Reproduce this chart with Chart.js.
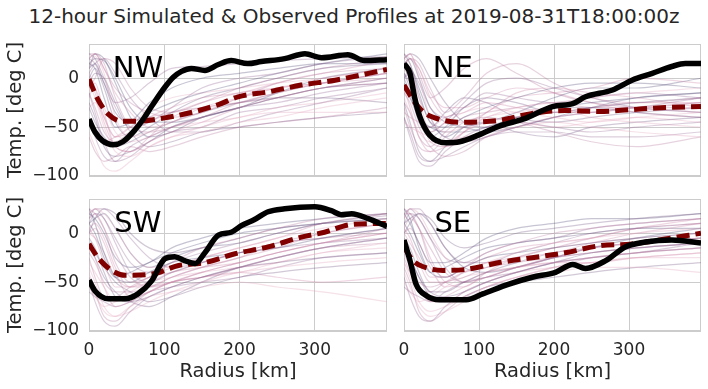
<!DOCTYPE html>
<html>
<head>
<meta charset="utf-8">
<script src="https://cdn.jsdelivr.net/npm/chart.js@4/dist/chart.umd.min.js"></script>
<style>
  body { margin: 0; background: #fff; }
  #page { position: relative; width: 708px; height: 389px; overflow: hidden; }
  #page canvas { position: absolute; left: 0; top: 0; }
  #titre { position: absolute; left: 0; top: 4px; width: 708px; text-align: center;
           font: 20px "DejaVu Sans"; line-height: 24px; color: #262626; }
</style>
</head>
<body>
<div id="page">
  <div id="titre">12-hour Simulated &amp; Observed Profiles at 2019-08-31T18:00:00z</div>
  <canvas id="nw" width="708" height="389"></canvas>
  <canvas id="ne" width="708" height="389"></canvas>
  <canvas id="sw" width="708" height="389"></canvas>
  <canvas id="se" width="708" height="389"></canvas>
</div>
<script>
// axes
const ticksX = [0, 100, 200, 300];
const ticksY = [-100, -50, 0];

// rayons communs des membres de l'ensemble (km)
const rayons = [0, 8, 20, 35, 55, 80, 110, 150, 200, 250, 310, 396];

// membres simulés (deg C), lus à l'oeil
const membresNW = [
  [10, 22, 5, -40, -60, -55, -45, -35, -20, -10, 0, 10],
  [-20, -5, -35, -70, -75, -65, -55, -45, -30, -20, -10, 0],
  [20, 25, 15, -20, -50, -55, -50, -40, -25, -15, -5, 5],
  [-40, -60, -80, -85, -70, -60, -50, -40, -30, -25, -15, -5],
  [0, 10, -10, -45, -60, -50, -35, -20, -10, 0, 10, 15],
  [15, 20, 18, 0, -30, -45, -45, -40, -30, -20, -10, 0],
  [-55, -70, -90, -95, -85, -70, -60, -55, -45, -40, -30, -20],
  [5, -10, -40, -60, -55, -40, -30, -20, -15, -5, 5, 18],
  [-10, 0, 20, 15, -10, -30, -35, -25, -10, 0, 10, 20],
  [25, 20, 0, -30, -50, -45, -30, -10, 0, 5, 15, 22],
  [-30, -45, -60, -70, -65, -55, -45, -35, -25, -20, -20, -25],
  [10, 15, -5, -35, -45, -35, -25, -15, -5, 5, 15, 25],
  [-5, -20, -50, -75, -80, -70, -60, -50, -40, -35, -35, -35],
  [20, 25, 10, -15, -35, -50, -45, -30, -20, -10, -5, 5],
  [-15, -30, -55, -65, -55, -45, -35, -30, -25, -15, -5, 5],
  [5, 15, 20, 5, -20, -40, -55, -55, -45, -35, -25, -10],
  [-25, -40, -70, -80, -75, -65, -50, -40, -30, -20, -10, -5],
  [15, 10, -20, -50, -45, -25, -10, 0, 5, 10, 15, 15],
  [0, -10, -30, -55, -65, -60, -50, -45, -40, -30, -25, -15],
  [-45, -55, -65, -60, -50, -40, -35, -25, -15, -10, -5, 0],
  [-60, -75, -85, -80, -70, -75, -70, -60, -50, -45, -40, -30],
  [20, 15, -5, -25, -20, -5, 10, 12, 15, 18, 20, 22],
  [-5, 5, 0, -25, -55, -70, -65, -55, -50, -45, -40, -35],
  [10, 25, 20, -5, -40, -60, -55, -40, -30, -15, 0, 10],
  [-30, -25, -40, -60, -50, -30, -20, -15, -10, -5, 0, 10],
  [0, -15, -45, -70, -75, -60, -40, -30, -25, -20, -10, -5],
  [25, 25, 10, -10, -25, -35, -40, -35, -20, -5, 5, 10],
  [-15, -35, -65, -85, -80, -65, -55, -50, -35, -30, -20, -10]
];
const membresNE = [
  [20, 25, 0, -40, -55, -50, -40, -30, -25, -20, -15, -10],
  [-10, -30, -60, -75, -70, -55, -45, -40, -35, -35, -30, -25],
  [15, 20, 15, -10, -35, -20, 5, 15, -5, -20, -25, -20],
  [-40, -60, -85, -90, -75, -60, -50, -45, -50, -55, -50, -45],
  [0, -15, -45, -60, -50, -30, -20, -25, -35, -30, -25, -20],
  [25, 15, -15, -45, -50, -40, -30, -20, -10, -5, -5, -10],
  [-20, -35, -55, -65, -65, -60, -55, -50, -45, -50, -55, -60],
  [10, 20, 10, -20, -40, -45, -35, -15, -10, -15, -20, -30],
  [-30, -50, -70, -75, -60, -45, -40, -45, -55, -65, -70, -60],
  [5, -5, -35, -55, -45, -25, -5, 0, -10, -20, -30, -35],
  [20, 25, 20, 0, -25, -45, -50, -40, -30, -30, -35, -40],
  [-5, -20, -40, -50, -55, -55, -50, -40, -30, -25, -20, -15],
  [-45, -50, -55, -60, -65, -55, -40, -35, -30, -40, -45, -50],
  [10, 0, -30, -65, -70, -55, -35, -20, -15, -10, 0, -5],
  [-15, -25, -50, -70, -80, -75, -60, -50, -40, -35, -30, -30],
  [15, 10, -5, -30, -40, -30, -15, -20, -25, -20, -15, -20],
  [-25, -45, -75, -85, -70, -50, -45, -55, -60, -50, -45, -40],
  [0, 10, -10, -40, -60, -50, -45, -35, -20, -10, -10, 0],
  [20, 15, -20, -55, -45, -35, -30, -35, -40, -45, -40, -35],
  [-35, -40, -45, -50, -40, -35, -25, -30, -35, -30, -25, -25],
  [20, 25, 5, -20, -10, 10, 20, 5, -15, -25, -30, -35],
  [-40, -55, -80, -85, -80, -70, -60, -55, -55, -60, -60, -55],
  [5, -10, -40, -50, -35, -20, -25, -40, -45, -40, -35, -30],
  [15, 20, 0, -30, -45, -50, -55, -50, -40, -30, -20, -15],
  [-10, -20, -35, -55, -70, -65, -55, -45, -50, -45, -40, -45],
  [25, 20, 10, -15, -30, -30, -20, -10, -15, -25, -35, -40],
  [-25, -35, -60, -70, -55, -40, -35, -30, -25, -30, -30, -25],
  [0, 5, -20, -45, -60, -65, -60, -50, -40, -35, -30, -20]
];
const membresSW = [
  [20, 25, 20, 5, -20, -35, -35, -25, -15, -5, 5, 15],
  [-10, -25, -55, -75, -70, -60, -50, -40, -30, -20, -10, 0],
  [15, 20, 5, -30, -50, -45, -30, -15, -5, 5, 15, 20],
  [-50, -70, -90, -95, -80, -65, -55, -45, -35, -25, -15, -5],
  [0, 15, 25, 20, 0, -15, -20, -15, -5, 5, 10, 15],
  [25, 10, -20, -45, -50, -40, -30, -25, -20, -15, -5, 5],
  [-35, -50, -75, -85, -75, -65, -60, -55, -50, -55, -60, -70],
  [5, -5, -30, -55, -55, -45, -35, -25, -15, -5, 10, 20],
  [-20, -30, -50, -60, -60, -55, -45, -35, -25, -10, 0, 10],
  [10, 20, 15, -10, -40, -50, -40, -30, -20, -15, -10, -5],
  [-5, -15, -40, -65, -70, -65, -55, -45, -35, -30, -25, -20],
  [20, 15, 0, -25, -35, -30, -15, -5, 5, 10, 15, 20],
  [-40, -60, -80, -85, -80, -70, -60, -50, -40, -35, -30, -25],
  [5, 10, -5, -35, -55, -55, -45, -35, -25, -15, 0, 10],
  [-25, -45, -65, -65, -55, -45, -40, -30, -20, -10, -5, 0],
  [15, 25, 25, 15, -5, -25, -35, -30, -20, -10, -5, 5],
  [-10, -20, -35, -50, -60, -70, -65, -55, -45, -40, -35, -30],
  [10, 0, -25, -45, -40, -30, -20, -10, 0, 5, 10, 15],
  [-55, -65, -75, -70, -60, -50, -45, -40, -35, -30, -20, -10],
  [0, 5, -10, -40, -65, -60, -50, -45, -40, -45, -50, -45],
  [-45, -60, -85, -90, -75, -60, -50, -45, -35, -25, -15, -10],
  [20, 25, 15, -5, -30, -40, -30, -20, -10, 0, 10, 18],
  [-15, -25, -45, -60, -70, -75, -65, -50, -35, -25, -15, -5],
  [10, 15, 20, 5, -20, -35, -25, -15, -10, 0, 10, 20],
  [-30, -40, -55, -70, -65, -55, -50, -45, -40, -30, -20, -15],
  [0, -5, -20, -45, -55, -50, -40, -35, -30, -20, -10, 0],
  [25, 20, 5, -20, -45, -55, -50, -40, -30, -20, -10, 5],
  [-60, -65, -70, -75, -70, -60, -55, -50, -45, -35, -25, -20]
];
const membresSE = [
  [15, 25, 20, 0, -25, -40, -30, -20, -10, -5, 0, 5],
  [-15, -30, -55, -70, -65, -55, -45, -35, -25, -15, -10, -5],
  [20, 20, 5, -30, -45, -35, -20, -10, 0, 5, 10, 15],
  [-45, -65, -85, -90, -75, -60, -50, -40, -30, -25, -20, -15],
  [0, 10, 20, 15, -5, -15, -10, 0, 5, 10, 15, 20],
  [25, 15, -15, -40, -45, -35, -25, -20, -15, -10, -5, 0],
  [-30, -45, -70, -80, -75, -65, -55, -45, -40, -35, -35, -40],
  [5, -5, -30, -50, -50, -40, -30, -25, -20, -10, 0, 10],
  [-20, -35, -50, -55, -50, -45, -35, -25, -15, -5, 5, 10],
  [10, 20, 15, -5, -35, -50, -45, -35, -25, -20, -15, -10],
  [-5, -15, -40, -60, -60, -50, -40, -30, -20, -15, -10, -5],
  [20, 10, -10, -30, -30, -20, -5, 5, 10, 15, 15, 20],
  [-40, -55, -75, -85, -80, -70, -55, -45, -35, -30, -25, -20],
  [5, 15, 5, -25, -50, -55, -40, -25, -15, -10, -5, 0],
  [-25, -40, -60, -60, -50, -40, -35, -30, -25, -20, -15, -10],
  [15, 25, 25, 10, -15, -30, -30, -20, -10, 0, 5, 10],
  [-10, -25, -45, -65, -70, -65, -55, -50, -45, -40, -35, -30],
  [10, 0, -20, -40, -35, -25, -15, -10, -5, 0, 5, 5],
  [-50, -60, -70, -65, -55, -45, -40, -35, -30, -25, -20, -15],
  [0, 5, -10, -35, -55, -50, -40, -35, -30, -30, -25, -20],
  [-35, -50, -80, -90, -80, -65, -55, -45, -35, -25, -20, -15],
  [20, 25, 15, -5, -25, -30, -20, -10, -5, 5, 10, 15],
  [-15, -25, -45, -60, -65, -60, -50, -40, -30, -20, -15, -10],
  [10, 15, 20, 10, -15, -35, -40, -35, -25, -15, -5, 5],
  [-30, -40, -55, -70, -70, -60, -50, -40, -35, -30, -25, -25],
  [0, -10, -25, -45, -45, -35, -25, -15, -10, -5, 5, 15],
  [25, 20, 5, -15, -40, -50, -45, -35, -25, -15, -10, -5],
  [-55, -60, -65, -70, -60, -50, -45, -40, -30, -25, -20, -10]
];

// profils observés
const rObsNW = [0, 8, 18, 32, 45, 61, 72, 83, 101, 112, 123, 136, 154, 172, 189, 211, 229, 260, 287, 309, 344, 366, 396];
const tObsNW = [-42, -55, -64, -68, -65, -53, -42, -29, -9, 1, 7, 10, 8, 14, 18, 15, 17, 20, 25, 21, 24, 18, 19];
const rObsNE = [0, 8, 14, 21, 34, 56, 74, 100, 127, 162, 198, 225, 242, 278, 304, 331, 357, 375, 396];
const tObsNE = [15, 5, -19, -39, -58, -66, -65, -58, -49, -41, -29, -26, -19, -12, -2, 5, 12, 15, 15];
const rObsSW = [0, 8, 26, 48, 65, 83, 101, 114, 127, 141, 154, 172, 189, 203, 220, 238, 260, 300, 322, 335, 349, 371, 396];
const tObsSW = [-48, -59, -67, -67, -62, -49, -26, -24, -28, -31, -20, -2, 1, 8, 14, 22, 25, 27, 23, 19, 20, 15, 7];
const rObsSE = [0, 8, 16, 30, 47, 83, 105, 140, 171, 202, 225, 242, 269, 295, 322, 357, 396];
const tObsSE = [-7, -28, -52, -64, -68, -68, -62, -52, -45, -40, -32, -36, -28, -14, -9, -7, -10];

// moyenne de l'ensemble
const rMoyNW = [0, 12, 26, 43, 61, 105, 141, 172, 198, 238, 282, 327, 396];
const tMoyNW = [-1, -22, -37, -44, -44, -40, -34, -27, -19, -14, -7, -2, 9];
const rMoyNE = [0, 12, 25, 47, 74, 127, 171, 215, 260, 304, 349, 396];
const tMoyNE = [-7, -22, -34, -42, -45, -43, -36, -33, -34, -32, -30, -29];
const rMoySW = [0, 12, 30, 48, 83, 119, 154, 194, 238, 282, 313, 349, 396];
const tMoySW = [-11, -25, -38, -43, -42, -33, -30, -21, -14, -4, 1, 9, 10];
const rMoySE = [0, 12, 25, 52, 83, 127, 171, 215, 259, 304, 348, 396];
const tMoySE = [-14, -28, -34, -38, -37, -30, -25, -20, -13, -11, -6, 0];

Chart.defaults.font.family = "'DejaVu Sans', sans-serif";
Chart.defaults.color = '#262626';

const couleurs = ['rgba(226,170,192,0.35)', 'rgba(204,135,166,0.33)', 'rgba(175,110,150,0.3)',
                  'rgba(140,92,138,0.3)', 'rgba(105,76,124,0.3)', 'rgba(72,62,108,0.3)'];

const points = (xs, ys) => xs.map((x, i) => ({ x: x, y: ys[i] }));

// cadre gris autour de la zone de tracé
const cadre = {
  id: 'cadre',
  beforeDatasetsDraw(chart) {
    const a = chart.chartArea, ctx = chart.ctx;
    ctx.save();
    ctx.strokeStyle = '#cccccc';
    ctx.lineWidth = 1;
    ctx.strokeRect(a.left + 0.5, a.top + 0.5, a.right - a.left - 1, a.bottom - a.top - 1);
    ctx.restore();
  }
};

function etiquette(nom) {
  return {
    id: 'etiquette',
    afterDatasetsDraw(chart) {
      const ctx = chart.ctx;
      ctx.save();
      ctx.font = '29px "DejaVu Sans"';
      ctx.fillStyle = '#000';
      ctx.textAlign = 'center';
      ctx.textBaseline = 'alphabetic';
      ctx.fillText(nom, chart.scales.x.getPixelForValue(65), chart.scales.y.getPixelForValue(1));
      ctx.restore();
    }
  };
}

function panneau(id, nom, membres, rObs, tObs, rMoy, tMoy, zone, basX, gaucheY) {
  const largY = gaucheY ? 89 : 15;
  const hautX = basX ? 58 : 30;
  const jeux = [
    { data: points(rObs, tObs), borderColor: '#000', borderWidth: 5.5, borderJoinStyle: 'round', clip: 0 },
    { data: points(rMoy, tMoy), borderColor: '#800000', borderWidth: 5, borderDash: [13, 6], clip: 0 }
  ];
  membres.forEach((m, k) => {
    jeux.push({ data: points(rayons, m), borderColor: couleurs[k % couleurs.length], borderWidth: 1.2, clip: 0 });
  });

  new Chart(document.getElementById(id), {
    type: 'line',
    data: { datasets: jeux },
    options: {
      responsive: false,
      animation: false,
      layout: { padding: { left: zone.left - largY, top: zone.top, right: 708 - zone.right, bottom: 389 - zone.bottom - hautX } },
      plugins: { legend: { display: false }, tooltip: { enabled: false } },
      elements: { point: { radius: 0 }, line: { cubicInterpolationMode: 'monotone', fill: false } },
      scales: {
        x: {
          type: 'linear', min: 0, max: 396,
          afterBuildTicks: s => { s.ticks = ticksX.map(v => ({ value: v })); },
          afterFit: s => { s.height = hautX; },
          grid: { color: '#cccccc', drawTicks: false },
          border: { display: false },
          ticks: { display: basX, padding: 9, font: { size: 17 }, callback: v => String(v) },
          title: { display: basX, text: 'Radius [km]', font: { size: 19.5 }, padding: { top: 0, bottom: 5.5 } }
        },
        y: {
          min: -100, max: 35,
          afterBuildTicks: s => { s.ticks = ticksY.map(v => ({ value: v })); },
          afterFit: s => { s.width = largY; },
          grid: { color: '#cccccc', drawTicks: false },
          border: { display: false },
          ticks: { display: gaucheY, padding: 10, font: { size: 17 }, callback: v => String(v).replace('-', '\u2212') },
          title: { display: gaucheY, text: 'Temp. [deg C]', font: { size: 19.5 }, padding: { top: 4.3, bottom: 0 } }
        }
      }
    },
    plugins: [cadre, etiquette(nom)]
  });
}

panneau('nw', 'NW', membresNW, rObsNW, tObsNW, rMoyNW, tMoyNW, { left: 89, top: 44, right: 387, bottom: 176 }, false, true);
panneau('ne', 'NE', membresNE, rObsNE, tObsNE, rMoyNE, tMoyNE, { left: 404, top: 44, right: 701, bottom: 176 }, false, false);
panneau('sw', 'SW', membresSW, rObsSW, tObsSW, rMoySW, tMoySW, { left: 89, top: 199, right: 387, bottom: 331 }, true, true);
panneau('se', 'SE', membresSE, rObsSE, tObsSE, rMoySE, tMoySE, { left: 404, top: 199, right: 701, bottom: 331 }, true, false);
</script>
</body>
</html>
